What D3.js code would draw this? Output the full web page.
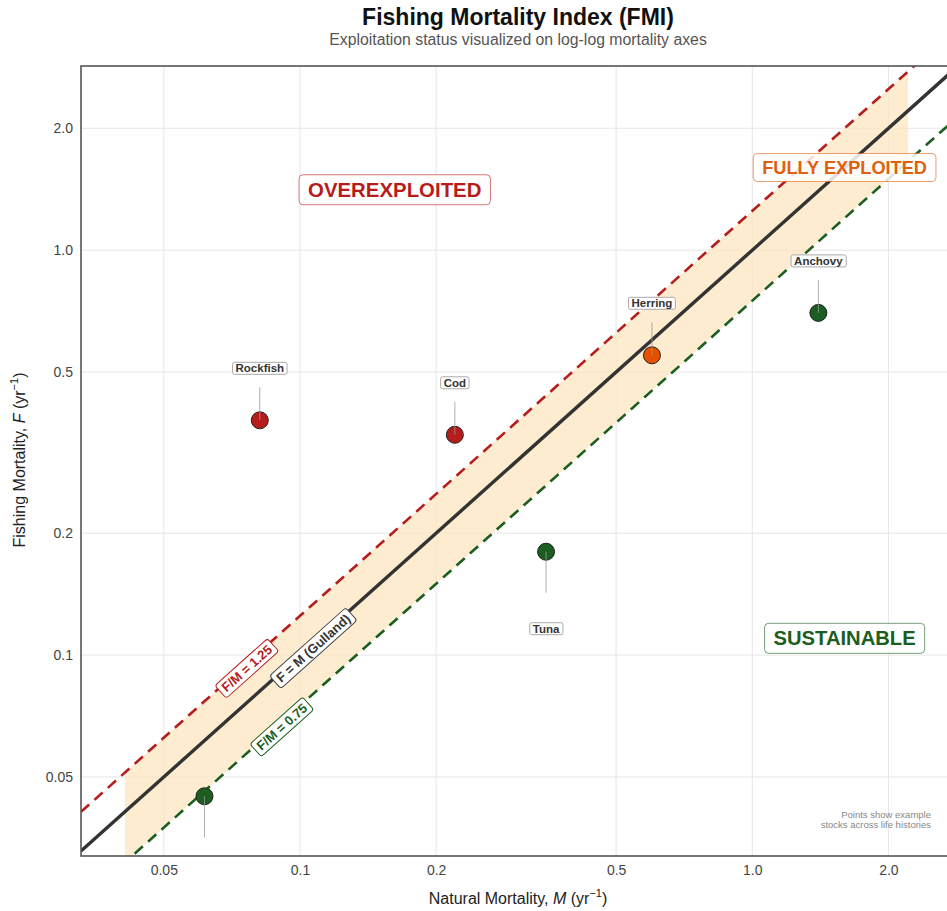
<!DOCTYPE html>
<html><head><meta charset="utf-8">
<script src="https://cdn.jsdelivr.net/npm/d3@7"></script>
<style>
body{margin:0;background:#fff;}
svg{display:block;font-family:"Liberation Sans",Arial,sans-serif;}
</style></head>
<body><svg id="c" width="947" height="911"></svg>
<script>
// ---- data ----
const stocks   = ["Rockfish","Cod","Herring","Anchovy","Tuna","Sole"];
const naturalM = [0.0815, 0.22, 0.60, 1.40, 0.35, 0.0615];
const fishingF = [0.38, 0.35, 0.55, 0.70, 0.18, 0.0448];
const labelSide = ["above","above","above","above","below","below"];
const xTicks = [0.05, 0.1, 0.2, 0.5, 1, 2];
const xTickLabels = ["0.05","0.1","0.2","0.5","1.0","2.0"];
const yTicks = [0.05, 0.1, 0.2, 0.5, 1, 2];
const yTickLabels = ["0.05","0.1","0.2","0.5","1.0","2.0"];
const refRatios = [1.25, 1, 0.75];
const refLabels = ["F/M = 1.25", "F = M (Gulland)", "F/M = 0.75"];
const refLabelM = [0.0763, 0.107, 0.0912];
const bandM = [0.041, 2.21];
const regions = ["OVEREXPLOITED","FULLY EXPLOITED","SUSTAINABLE"];
const regionM = [0.162, 1.6, 1.6];
const regionF = [1.41, 1.6, 0.11];

// ---- colours ----
const RED = "#b71c1c", ORANGE = "#e65100", GREEN = "#1b5e20";
function statusColor(r){ return r > 1.25 ? RED : (r >= 0.75 ? ORANGE : GREEN); }
const refColors = [RED, "#333333", GREEN];
const regionColors = [RED, "#e0600f", GREEN];
const regionSizes = [20.4, 18.2, 20.2];

const svg = d3.select("#c");
const L = 81, T = 66, R = 958, B = 856;
const x = d3.scaleLog().domain([0.0328, 2.85]).range([L, R]);
const y = d3.scaleLog().domain([0.0319, 2.85]).range([B, T]);

svg.append("defs").append("clipPath").attr("id","clip")
  .append("rect").attr("x",L).attr("y",T).attr("width",R-L).attr("height",B-T);

// titles
svg.append("text").attr("x",518).attr("y",25).attr("text-anchor","middle")
  .attr("font-size",23).attr("font-weight","bold").attr("fill","#111")
  .text("Fishing Mortality Index (FMI)");
svg.append("text").attr("x",518).attr("y",45).attr("text-anchor","middle")
  .attr("font-size",15.8).attr("fill","#555")
  .text("Exploitation status visualized on log-log mortality axes");

// grid
const grid = svg.append("g").attr("clip-path","url(#clip)");
grid.selectAll(".gx").data(xTicks).join("line")
  .attr("x1",d=>x(d)).attr("x2",d=>x(d)).attr("y1",T).attr("y2",B)
  .attr("stroke","#e6e6e6").attr("stroke-width",1);
grid.selectAll(".gy").data(yTicks).join("line")
  .attr("y1",d=>y(d)).attr("y2",d=>y(d)).attr("x1",L).attr("x2",R)
  .attr("stroke","#e6e6e6").attr("stroke-width",1);

// axes
const xAxis = d3.axisBottom(x).tickValues(xTicks).tickFormat((d,i)=>xTickLabels[i]).tickSize(0).tickPadding(9);
const gx = svg.append("g").attr("transform",`translate(0,${B})`).call(xAxis);
const yAxis = d3.axisLeft(y).tickValues(yTicks).tickFormat((d,i)=>yTickLabels[i]).tickSize(0).tickPadding(8);
const gy = svg.append("g").attr("transform",`translate(${L},0)`).call(yAxis);
[gx,gy].forEach(g=>{
  g.select(".domain").remove();
  g.selectAll("text").attr("font-size",14).attr("fill","#444").attr("font-family","Liberation Sans, Arial, sans-serif");
});

// axis titles
const xt = svg.append("text").attr("x",518).attr("y",904).attr("text-anchor","middle")
  .attr("font-size",16).attr("fill","#222");
xt.append("tspan").text("Natural Mortality, ");
xt.append("tspan").attr("font-style","italic").text("M");
xt.append("tspan").text(" (yr");
xt.append("tspan").attr("font-size",11).attr("dy",-7).text("−1");
xt.append("tspan").attr("dy",7).text(")");
const yt = svg.append("text").attr("transform","translate(25,460) rotate(-90)").attr("text-anchor","middle")
  .attr("font-size",16).attr("fill","#222");
yt.append("tspan").text("Fishing Mortality, ");
yt.append("tspan").attr("font-style","italic").text("F");
yt.append("tspan").text(" (yr");
yt.append("tspan").attr("font-size",11).attr("dy",-7).text("−1");
yt.append("tspan").attr("dy",7).text(")");

const plot = svg.append("g").attr("clip-path","url(#clip)");

// band between 0.75 and 1.25
const bandData = [bandM[0], bandM[1]];
plot.append("path").datum(bandData)
  .attr("d", d3.area().x(d=>x(d)).y0(d=>y(d*0.75)).y1(d=>y(d*1.25)))
  .attr("fill","#fde5c2").attr("fill-opacity",0.75);

// reference lines
const lineDom = x.domain();
refRatios.forEach((r,i)=>{
  plot.append("path").datum(lineDom)
    .attr("d", d3.line().x(d=>x(d)).y(d=>y(d*r)))
    .attr("fill","none").attr("stroke",refColors[i])
    .attr("stroke-width", r===1 ? 3.4 : 2.6)
    .attr("stroke-dasharray", r===1 ? null : "11,7");
});

// helper: labelled box
function boxLabel(parent, txt, opts){
  const g = parent.append("g").attr("transform",opts.transform);
  const t = g.append("text").attr("text-anchor","middle").attr("dominant-baseline","central")
    .attr("font-size",opts.size).attr("font-weight","bold").attr("fill",opts.color).text(txt);
  const bb = t.node().getBBox();
  g.insert("rect","text").attr("x",bb.x-opts.px).attr("y",bb.y-opts.py)
    .attr("width",bb.width+2*opts.px).attr("height",bb.height+2*opts.py)
    .attr("rx",opts.rx).attr("fill","#fff").attr("fill-opacity",opts.op)
    .attr("stroke",opts.stroke).attr("stroke-width",opts.sw);
  return g;
}

// rotated line labels
const ang = Math.atan2(y(10)-y(1), x(10)-x(1))*180/Math.PI;
refRatios.forEach((r,i)=>{
  const m = refLabelM[i];
  const px = x(m), py = y(m*r)+5;
  boxLabel(plot, refLabels[i], {transform:`translate(${px},${py}) rotate(${ang})`,
    size:13, color:refColors[i], px:4, py:1, rx:3, op:1,
    stroke: r===1 ? "#444" : refColors[i], sw:1});
});

// leader lines + points
const pts = stocks.map((s,i)=>({name:s, m:naturalM[i], f:fishingF[i], side:labelSide[i]}));
plot.selectAll(".pt").data(pts).join("circle")
  .attr("cx",d=>x(d.m)).attr("cy",d=>y(d.f)).attr("r",8.5)
  .attr("fill",d=>statusColor(d.f/d.m)).attr("stroke","#222").attr("stroke-width",1);
plot.selectAll(".ld").data(pts).join("line")
  .attr("x1",d=>x(d.m)).attr("x2",d=>x(d.m))
  .attr("y1",d=>d.side==="above" ? y(d.f)-33 : y(d.f))
  .attr("y2",d=>d.side==="above" ? y(d.f) : y(d.f)+41)
  .attr("stroke","#999").attr("stroke-width",1).attr("stroke-opacity",0.8);
pts.forEach(d=>{
  const ly = d.side==="above" ? y(d.f)-52 : y(d.f)+77;
  boxLabel(plot, d.name, {transform:`translate(${x(d.m)},${ly})`, size:11.5, color:"#333",
    px:3, py:0, rx:2, op:1, stroke:"#aaa", sw:1});
});

// region labels
regions.forEach((r,i)=>{
  boxLabel(plot, r, {transform:`translate(${x(regionM[i])},${y(regionF[i])})`, size:regionSizes[i],
    color:regionColors[i], px:9, py:4, rx:4, op:0.85, stroke:regionColors[i], sw:1})
    .select("rect").attr("stroke-opacity",0.6);
});

// note
const note = plot.append("text").attr("text-anchor","end").attr("font-size",9.5).attr("fill","#888");
note.append("tspan").attr("x",931).attr("y",818).text("Points show example");
note.append("tspan").attr("x",931).attr("y",828).text("stocks across life histories");

// panel border
svg.append("rect").attr("x",L).attr("y",T).attr("width",R-L).attr("height",B-T)
  .attr("fill","none").attr("stroke","#555").attr("stroke-width",1.6);
</script></body></html>
